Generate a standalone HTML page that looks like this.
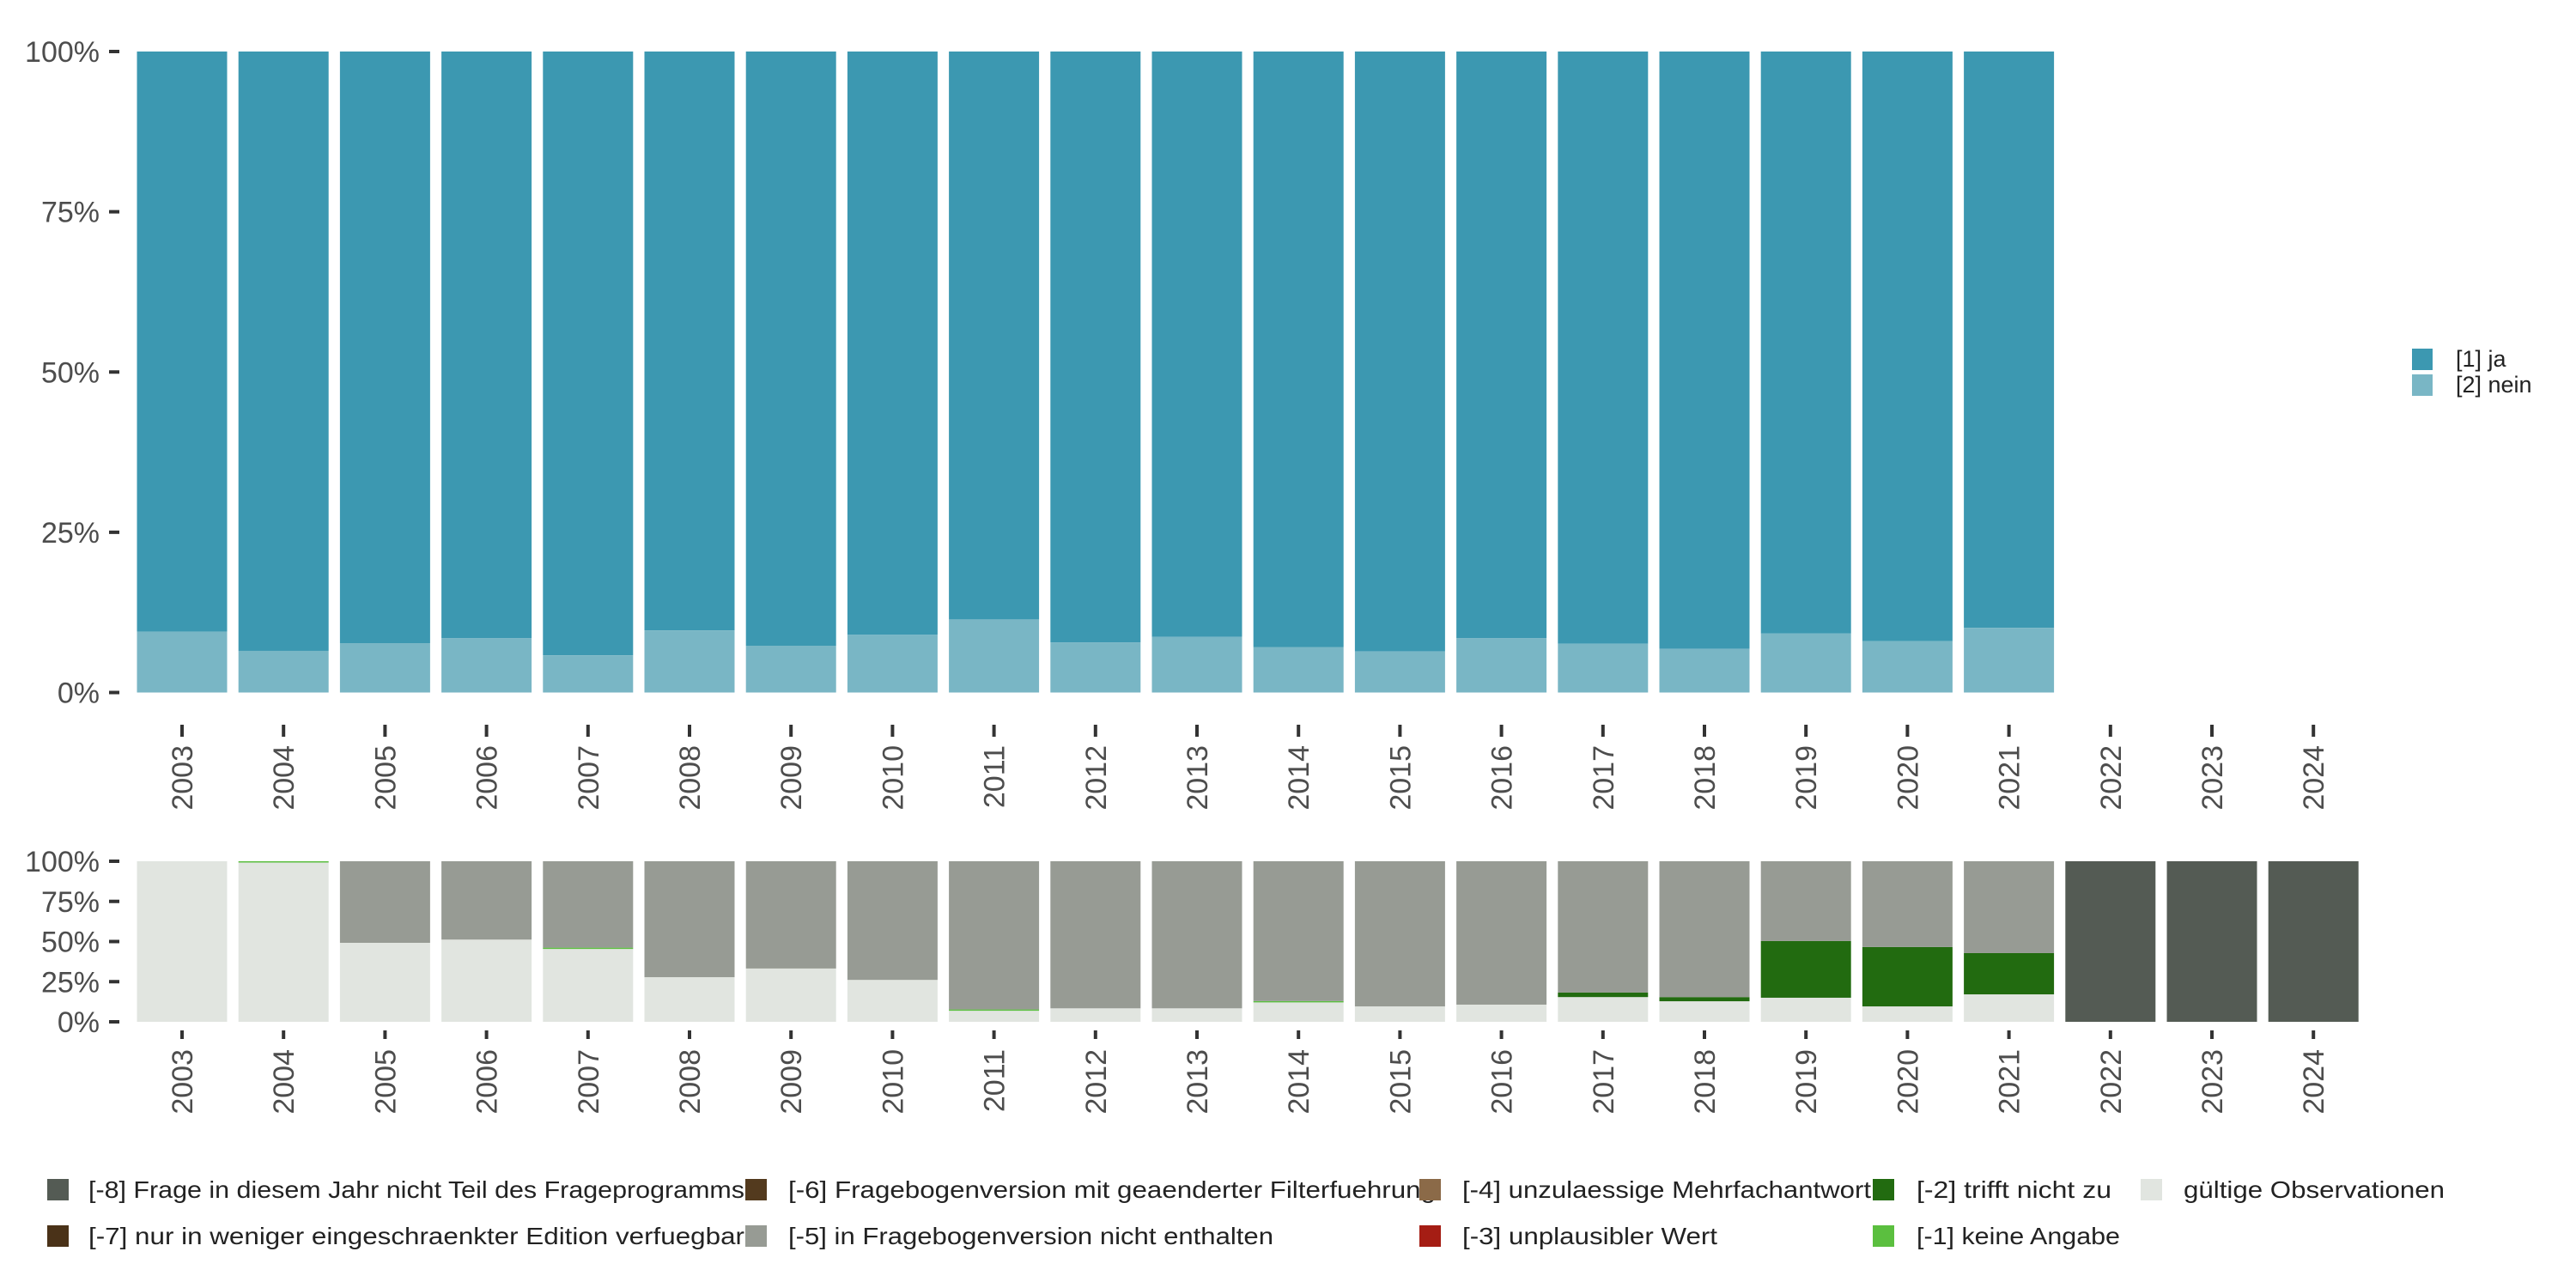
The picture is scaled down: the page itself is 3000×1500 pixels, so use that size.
<!DOCTYPE html>
<html><head><meta charset="utf-8"><style>
html,body{margin:0;padding:0;background:#fff;}
svg{display:block;font-family:"Liberation Sans","DejaVu Sans",sans-serif;}
</style></head><body>
<svg id="chart" width="3000" height="1500" viewBox="0 0 3000 1500" xmlns="http://www.w3.org/2000/svg">
<g id="topPanel"></g>
<g id="bottomPanel"></g>
<g id="legR"></g>
<g id="legB"></g>
</svg>
<script>
const years = ["2003","2004","2005","2006","2007","2008","2009","2010","2011","2012","2013","2014","2015","2016","2017","2018","2019","2020","2021","2022","2023","2024"];
const neinPct = [9.5,6.5,7.7,8.5,5.8,9.7,7.3,9.0,11.4,7.8,8.7,7.1,6.4,8.5,7.6,6.8,9.2,8.0,10.1,null,null,null];
const validPct = [100,99.7,49.2,51.2,45.8,27.8,33.2,26.1,7.3,8.4,8.4,12.6,9.6,10.7,15.4,12.8,15.0,9.6,17.1,0,0,0];
const m1Pct = [0,0.3,0,0,0.4,0,0,0,0.4,0,0,0.3,0,0,0,0,0,0,0,0,0,0];
const m2Pct = [0,0,0,0,0,0,0,0,0,0,0,0,0,0,2.8,2.6,35.3,37.0,25.7,0,0,0];
const m8Pct = [0,0,0,0,0,0,0,0,0,0,0,0,0,0,0,0,0,0,0,100,100,100];
const yTicks = [0,25,50,75,100];
const yTickLabels = ["0%","25%","50%","75%","100%"];

const NS="http://www.w3.org/2000/svg";
function mk(tag,attrs,parent){const e=document.createElementNS(NS,tag);for(const k in attrs)e.setAttribute(k,attrs[k]);parent.appendChild(e);return e;}
const pitch=118.2, x0=212, bw=105;
function xc(i){return x0+i*pitch;}

function panel(g,yTop,yBot,tickY1,tickY2,labY,name){
  const ys=v=>yBot-(yBot-yTop)*v/100;
  yTicks.forEach((t,i)=>{
    const l=mk('line',{x1:127,x2:139,y1:ys(t),y2:ys(t),stroke:'#333',"stroke-width":4},g);
    
    
    const tx=mk('text',{x:116,y:ys(t)+12,"text-anchor":"end","font-size":34,fill:'#4d4d4d'},g);
    tx.textContent=yTickLabels[i];
    
    
  });
  years.forEach((yr,i)=>{
    const l=mk('line',{x1:xc(i),x2:xc(i),y1:tickY1,y2:tickY2,stroke:'#333',"stroke-width":4},g);
    
    
    const tx=mk('text',{x:0,y:0,"text-anchor":"end","font-size":34,fill:'#4d4d4d',transform:`translate(${xc(i)+12},${labY}) rotate(-90)`},g);
    tx.textContent=yr;
    
    
  });
  return ys;
}

const gTop=document.getElementById('topPanel');
const ysT=panel(gTop,60,806.5,844,858,868,'top');
years.forEach((yr,i)=>{
  if(neinPct[i]===null)return;
  const r1=mk('rect',{x:xc(i)-bw/2,y:ysT(100),width:bw,height:ysT(neinPct[i])-ysT(100),fill:'#3c98b1'},gTop);
  
  
  const r2=mk('rect',{x:xc(i)-bw/2,y:ysT(neinPct[i]),width:bw,height:ysT(0)-ysT(neinPct[i]),fill:'#79b6c5'},gTop);
  
  
});

const gBot=document.getElementById('bottomPanel');
const ysB=panel(gBot,1003,1190,1200,1210,1222,'bottom');
years.forEach((yr,i)=>{
  const segs=[['valid',validPct[i],'#e1e5e0'],['m1',m1Pct[i],'#5bbf3f'],['m2',m2Pct[i],'#226b10']];
  const other=100-validPct[i]-m1Pct[i]-m2Pct[i]-m8Pct[i];
  segs.push(['m5',other,'#979b94']);
  segs.push(['m8',m8Pct[i],'#545b54']);
  let cum=0;
  segs.forEach(s=>{
    if(s[1]<=0){return;}
    const y1=ysB(cum+s[1]), y2=ysB(cum);
    const r=mk('rect',{x:xc(i)-bw/2,y:y1,width:bw,height:Math.max(y2-y1,1.5),fill:s[2]},gBot);
    
    
    cum+=s[1];
  });
});

const legR=document.getElementById('legR');
[['[1] ja','#3c98b1',406],['[2] nein','#79b6c5',436]].forEach(d=>{
  const r=mk('rect',{x:2809,y:d[2],width:24,height:25,fill:d[1]},legR);
  
  
  const t=mk('text',{x:2860,y:d[2]+21,"font-size":27,fill:'#222'},legR);
  t.textContent=d[0];
  
  
});

const legB=document.getElementById('legB');
const items=[
 [55,103,1373,'#545b54','[-8] Frage in diesem Jahr nicht Teil des Frageprogramms',764],
 [55,103,1427,'#4a3218','[-7] nur in weniger eingeschraenkter Edition verfuegbar',764],
 [868,918,1373,'#533a1e','[-6] Fragebogenversion mit geaenderter Filterfuehrung',754],
 [868,918,1427,'#979b94','[-5] in Fragebogenversion nicht enthalten',565],
 [1653,1703,1373,'#8b6a48','[-4] unzulaessige Mehrfachantwort',476],
 [1653,1703,1427,'#a51d14','[-3] unplausibler Wert',297],
 [2181,2232,1373,'#226b10','[-2] trifft nicht zu',227],
 [2181,2232,1427,'#5bbf3f','[-1] keine Angabe',237],
 [2493,2543,1373,'#e1e5e0','gültige Observationen',304]
];
items.forEach(d=>{
  const r=mk('rect',{x:d[0],y:d[2],width:25,height:25,fill:d[3]},legB);
  
  
  const t=mk('text',{x:d[1],y:d[2]+22,"font-size":28,fill:'#222',textLength:d[5],lengthAdjust:'spacingAndGlyphs'},legB);
  t.textContent=d[4];
  
  
});
</script>
</body></html>
